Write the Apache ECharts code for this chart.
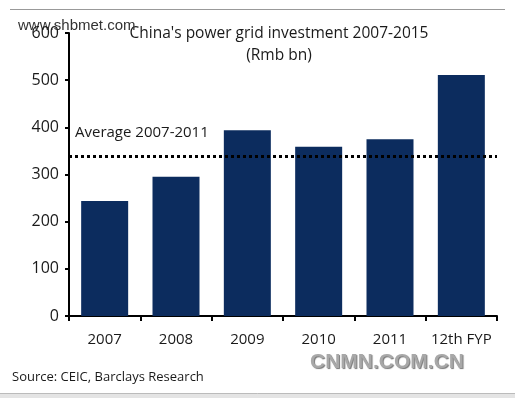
<!DOCTYPE html>
<html>
<head>
<meta charset="utf-8">
<script src="https://cdn.jsdelivr.net/npm/echarts@6/dist/echarts.min.js"></script>
<style>
  html, body { margin: 0; padding: 0; background: #fff; }
  #chart { width: 515px; height: 398px; }
</style>
</head>
<body>
<div id="chart"></div>
<script>
// data (Rmb bn)
var categories = ["2007", "2008", "2009", "2010", "2011", "12th FYP"];
var investment = [244, 295, 394, 359, 375, 511];
var average0711 = 339;
var yTicks = [0, 100, 200, 300, 400, 500, 600];

var FONT = "'Open Sans', 'DejaVu Sans', sans-serif";

var chart = echarts.init(document.getElementById("chart"));
chart.setOption({
  animation: false,
  grid: { left: 69, right: 18, top: 33, bottom: 82 },
  xAxis: {
    type: "category",
    data: categories,
    axisLine: { lineStyle: { color: "#000", width: 2 } },
    axisTick: { show: true, length: 5, lineStyle: { color: "#000", width: 2 } },
    axisLabel: { color: "#1a1a1a", fontSize: 15, fontFamily: FONT, margin: 16, interval: 0 }
  },
  yAxis: {
    type: "value",
    min: yTicks[0],
    max: yTicks[yTicks.length - 1],
    interval: 100,
    axisLine: { show: true, lineStyle: { color: "#000", width: 2 } },
    axisTick: { show: true, length: 4, lineStyle: { color: "#000", width: 2 } },
    splitLine: { show: false },
    axisLabel: { color: "#1a1a1a", fontSize: 16, fontFamily: FONT, margin: 10 }
  },
  series: [
    {
      type: "bar",
      data: investment,
      barWidth: 47,
      itemStyle: { color: "#0c2c5e" },
      markLine: {
        silent: true,
        symbol: "none",
        label: { show: false },
        lineStyle: { color: "#000", width: 3, type: [3, 3] },
        data: [{ yAxis: average0711 }]
      }
    }
  ],
  graphic: [
    // frame lines top / bottom
    { type: "line", shape: { x1: 10, y1: 9.5, x2: 505, y2: 9.5 }, style: { stroke: "#999", lineWidth: 1 } },
    { type: "rect", shape: { x: 0, y: 393, width: 515, height: 5 }, style: { fill: "#e4e4e4" } },
    { type: "line", shape: { x1: 0, y1: 393.5, x2: 515, y2: 393.5 }, style: { stroke: "#bbb", lineWidth: 1 } },
    {
      type: "text", x: 279, y: 23,
      style: {
        text: "China's power grid investment 2007-2015\n(Rmb bn)",
        align: "center", verticalAlign: "top", fill: "#1a1a1a", fontSize: 15.5, lineHeight: 22, fontFamily: FONT
      }
    },
    {
      type: "text", x: 75, y: 133,
      style: { text: "Average 2007-2011", verticalAlign: "middle", fill: "#1a1a1a", fontSize: 15, fontFamily: FONT }
    },
    {
      type: "text", x: 12, y: 377,
      style: { text: "Source: CEIC, Barclays Research", verticalAlign: "middle", fill: "#1a1a1a", fontSize: 13, fontFamily: FONT }
    },
    {
      type: "text", x: 18, y: 26,
      style: { text: "www.shbmet.com", verticalAlign: "middle", fill: "#333", fontSize: 15, fontFamily: "'Liberation Sans', Arial, sans-serif" }
    },
    {
      type: "text", x: 310, y: 362,
      style: {
        text: "CNMN.COM.CN", verticalAlign: "middle", fill: "#a8a8a8", fontSize: 21, fontWeight: "bold",
        fontFamily: "'Liberation Sans', Arial, sans-serif",
        textShadowColor: "#777", textShadowOffsetX: 1, textShadowOffsetY: 1, textShadowBlur: 1
      }
    }
  ]
});
</script>
</body>
</html>
